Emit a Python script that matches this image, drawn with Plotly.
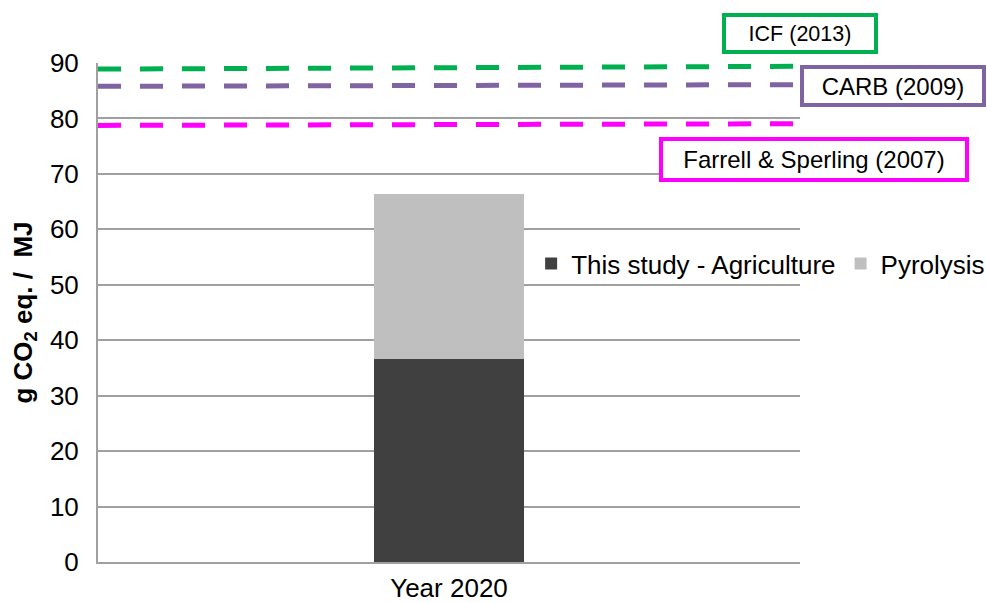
import plotly.graph_objects as go

categories = ["Year 2020"]
agriculture = [36.6]
pyrolysis = [29.7]

ref_names = ["ICF (2013)", "CARB (2009)", "Farrell & Sperling (2007)"]
ref_start = [88.9, 85.8, 78.75]
ref_end = [89.4, 86.1, 79.05]
ref_colors = ["#00B050", "#8064A2", "#FF00FF"]

font_family = "Liberation Sans, Arial, sans-serif"

fig = go.Figure()
fig.add_trace(go.Bar(x=categories, y=agriculture, name="This study - Agriculture",
                     marker=dict(color="#404040", line=dict(width=0)), width=0.215))
fig.add_trace(go.Bar(x=categories, y=pyrolysis, name="Pyrolysis",
                     marker=dict(color="#BFBFBF", line=dict(width=0)), width=0.215))

for name, y0, y1, c in zip(ref_names, ref_start, ref_end, ref_colors):
    fig.add_trace(go.Scatter(x=[0, 1], y=[y0, y1], mode="lines", xaxis="x2",
                             line=dict(color=c, width=5, dash="23px,19px"),
                             showlegend=False, hoverinfo="skip"))

# box annotations
box_specs = [
    # text, x, y, w, h, font size
    (ref_names[0], 1.0, 1.06, 148, 33, 21.5),
    (ref_names[1], 1.1325, 0.954, 178, 34, 24),
    (ref_names[2], 1.02, 0.807, 302, 37, 24),
]
for (txt, x, y, w, h, fs), c in zip(box_specs, ref_colors):
    fig.add_annotation(text=txt, x=x, y=y, xref="paper", yref="paper",
                       xanchor="center", yanchor="middle", showarrow=False,
                       width=w, height=h, bordercolor=c, borderwidth=4, borderpad=0,
                       bgcolor="white", font=dict(size=fs, color="black", family=font_family))

fig.update_layout(
    barmode="stack",
    width=987, height=603,
    margin=dict(l=98, r=187, t=63, b=41, autoexpand=False),
    paper_bgcolor="white", plot_bgcolor="white",
    font=dict(family=font_family, size=26, color="black"),
    showlegend=True,
    legend=dict(orientation="h", x=0.617, y=0.598, xanchor="left", yanchor="middle",
                font=dict(size=26), bgcolor="rgba(0,0,0,0)", itemwidth=30,
                traceorder="normal"),
    xaxis=dict(showgrid=False, showline=True, linecolor="#A0A0A0", linewidth=2,
               ticks="", tickfont=dict(size=26), range=[-0.5, 0.5], zeroline=False,
               automargin=False, ticklabelstandoff=2),
    xaxis2=dict(overlaying="x", range=[0, 1], visible=False),
    yaxis=dict(range=[0, 90], dtick=10, showgrid=True, gridcolor="#A0A0A0", gridwidth=1.5,
               showline=True, linecolor="#A0A0A0", linewidth=2, ticks="",
               tickfont=dict(size=26), zeroline=False, automargin=False,
               ticklabelstandoff=12,
               title=dict(text="<b>g CO<sub>2</sub> eq. /  MJ</b>", font=dict(size=26), standoff=10)),
)

fig.write_html("out.html")
